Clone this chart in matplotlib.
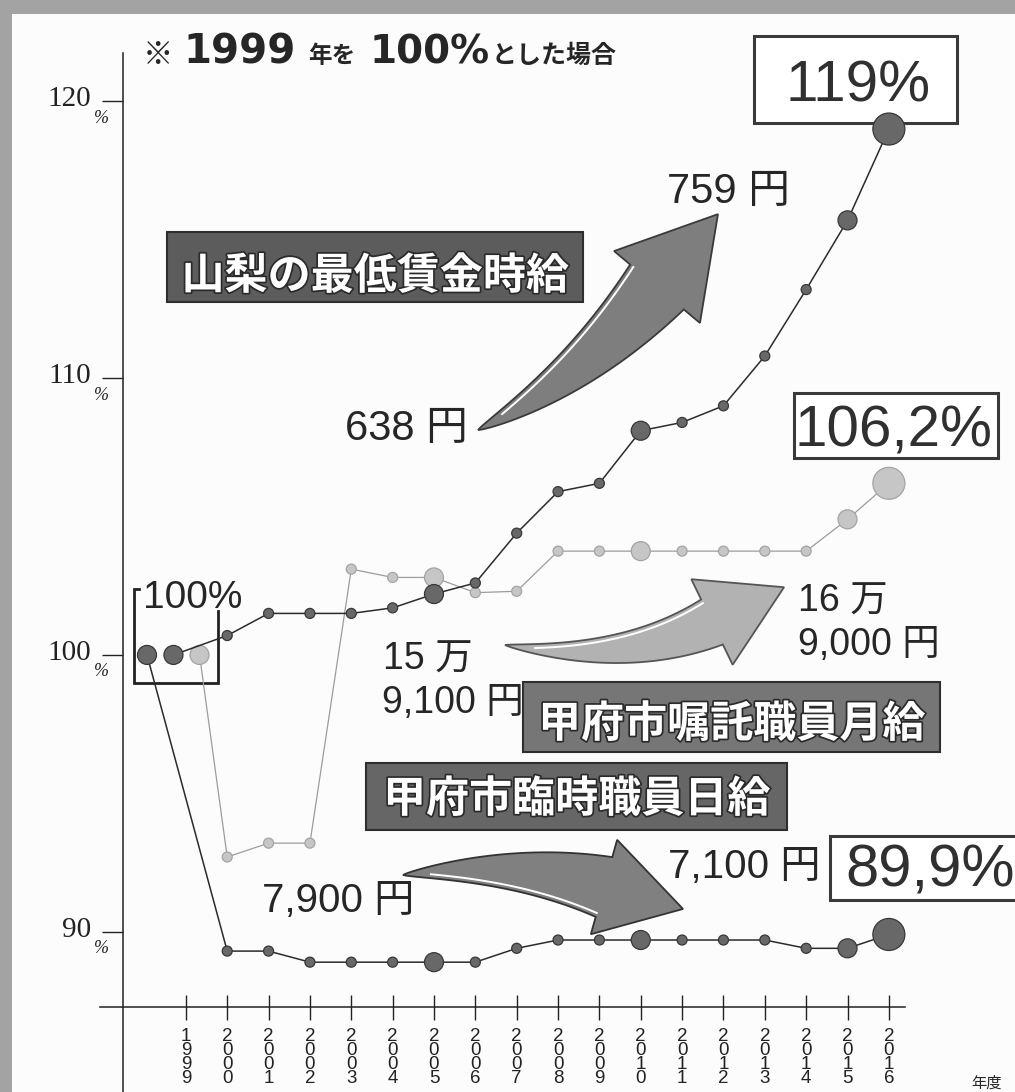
import numpy as np
import matplotlib
matplotlib.use("Agg")
import matplotlib.pyplot as plt
import matplotlib.patheffects as pe
from matplotlib.patches import Rectangle, Polygon
from matplotlib.lines import Line2D
from matplotlib.transforms import Affine2D

plt.rcParams['font.family'] = ['Liberation Sans', 'Noto Sans CJK JP', 'DejaVu Sans']

W, H = 1015, 1092

# index, 1999 = 100%
years = list(range(1999, 2017))
min_wage = [100.0, 100.7, 101.5, 101.5, 101.5, 101.7, 102.2, 102.6, 104.4, 105.9,
            106.2, 108.1, 108.4, 109.0, 110.8, 113.2, 115.7, 119.0]
commission_monthly = [100.0, 92.7, 93.2, 93.2, 103.1, 102.8, 102.8, 102.25, 102.3, 103.75,
                      103.75, 103.75, 103.75, 103.75, 103.75, 103.75, 104.9, 106.2]
temp_daily = [100.0, 89.3, 89.3, 88.9, 88.9, 88.9, 88.9, 88.9, 89.4, 89.7,
              89.7, 89.7, 89.7, 89.7, 89.7, 89.4, 89.4, 89.9]
y_ticks = [90, 100, 110, 120]

# the three 1999 dots are spread sideways so they don't sit on top of each other
shift_1999 = {'temp': -0.94, 'min': -0.30, 'commission': 0.33}
# dot diameters in pixels, bigger for a few highlighted years
dot_px = [19, 10, 10, 10, 10, 10, 19, 10, 10, 10, 10, 19, 10, 10, 10, 10, 19, 32]

XLIM = (1997.48, 2019.05)
YLIM = (87.28, 123.12)

fig = plt.figure(figsize=(W / 100, H / 100), dpi=100, facecolor='#a3a3a3')
# pixel coordinates, origin top-left
PX = Affine2D().scale(1 / W, -1 / H).translate(0, 1) + fig.transFigure

fig.add_artist(Rectangle((12, 14), W, H, transform=PX, facecolor='#fcfcfc',
                         edgecolor='none', zorder=-10))

ax = fig.add_axes([123 / W, 1 - 1007 / H, (W - 123) / W, (1007 - 15) / H])
ax.set_zorder(3)
ax.set_xlim(*XLIM)
ax.set_ylim(*YLIM)
ax.patch.set_alpha(0)
for s in ax.spines.values():
    s.set_visible(False)

# axis lines run past the plotting area
ax.plot([XLIM[0], XLIM[0]], [84.0, 121.75], color='#222', lw=1.1, clip_on=False)
ax.plot([1996.92, 2016.39], [YLIM[0], YLIM[0]], color='#222', lw=1.1, clip_on=False)

ax.set_xticks(years)
ax.set_xticklabels(['\n'.join(str(y)) for y in years], fontsize=13.5,
                   family=['Liberation Sans Narrow', 'Liberation Sans'],
                   linespacing=0.78, color='#222')
ax.tick_params(axis='x', direction='inout', length=18, width=1.0, pad=6, color='#222')
ax.set_yticks(y_ticks)
ax.tick_params(axis='y', direction='out', length=15, width=1.0, labelleft=False, color='#222')
for v in y_ticks:
    ax.annotate(str(v), xy=(XLIM[0], v), xytext=(-32, 2), textcoords='offset pixels',
                ha='right', va='center', family='Liberation Serif', fontsize=21, color='#222')
    ax.annotate('%', xy=(XLIM[0], v), xytext=(-22, -17), textcoords='offset pixels',
                ha='center', va='center', family='Liberation Serif', style='italic',
                fontsize=13, color='#222')


def draw_series(vals, key, line_col, lw, fc, ec, z):
    xs = [years[0] + shift_1999[key]] + years[1:]
    ax.plot(xs, vals, color=line_col, lw=lw, zorder=z, clip_on=False)
    ax.scatter(xs, vals, s=[(d * 0.72) ** 2 for d in dot_px], c=fc, edgecolors=ec,
               linewidths=0.9, zorder=z + 1, clip_on=False)


draw_series(commission_monthly, 'commission', '#9c9c9c', 0.9, '#c6c6c6', '#a4a4a4', 2)
draw_series(temp_daily, 'temp', '#2b2b2b', 1.1, '#686868', '#383838', 4)
draw_series(min_wage, 'min', '#2b2b2b', 1.1, '#686868', '#383838', 6)


def ptext(x, y, s, **kw):
    kw.setdefault('color', '#262626')
    kw.setdefault('ha', 'left')
    kw.setdefault('va', 'baseline')
    return fig.text(x, y, s, transform=PX, **kw)


# note at the top
ptext(143, 63, '※', family='Noto Sans CJK JP', fontsize=22)
ptext(183, 63, '1999', family='DejaVu Sans', weight='bold', fontsize=29)
ptext(308, 63, '年を', family='Noto Sans CJK JP', weight='bold', fontsize=17)
ptext(370, 63, '100%', family='DejaVu Sans', weight='bold', fontsize=28)
ptext(492, 63, 'とした場合', family='Noto Sans CJK JP', weight='bold', fontsize=18)


def boxed(txt, cx, base, box, size):
    x0, y0, x1, y1 = box
    fig.add_artist(Rectangle((x0, y0), x1 - x0, y1 - y0, transform=PX, facecolor='white',
                             edgecolor='#3a3a3a', lw=2.2, zorder=1))
    ptext(cx, base, txt, ha='center', fontsize=size, color='#303030', zorder=2)


boxed('119%', 858, 102, (754, 36, 957, 123), 42)
boxed('106,2%', 894, 446, (794, 393, 998, 458), 42)
boxed('89,9%', 930, 887, (830, 836, 1030, 900), 43)


def tag(txt, box, base, fc):
    x0, y0, x1, y1 = box
    fig.add_artist(Rectangle((x0, y0), x1 - x0, y1 - y0, transform=PX, facecolor=fc,
                             edgecolor='#2e2e2e', lw=1.5, zorder=1))
    ptext((x0 + x1) / 2, base, txt, ha='center', family='Noto Sans CJK JP', weight='bold',
          fontsize=31, color='white', zorder=2,
          path_effects=[pe.withStroke(linewidth=2.5, foreground='#2a2a2a')])


tag('山梨の最低賃金時給', (167, 232, 583, 302), 289, '#5c5c5c')
tag('甲府市嘱託職員月給', (523, 682, 940, 752), 737, '#767676')
tag('甲府市臨時職員日給', (366, 763, 787, 830), 812, '#666666')


def horn_arrow(p0, p1, p2, base_w, head_w, head_len, fc, ec, shine):
    p0, p1, p2 = (np.asarray(p, float) for p in (p0, p1, p2))
    t = np.linspace(0, 1, 80)[:, None]
    c = (1 - t) ** 2 * p0 + 2 * (1 - t) * t * p1 + t ** 2 * p2
    d = 2 * (1 - t) * (p1 - p0) + 2 * t * (p2 - p1)
    d = d / np.linalg.norm(d, axis=1, keepdims=True)
    n = np.column_stack([-d[:, 1], d[:, 0]])
    w = base_w * t ** 0.8
    left = c + n * w / 2
    right = c - n * w / 2
    tip = p2 + d[-1] * head_len
    wing_l = p2 + n[-1] * head_w / 2
    wing_r = p2 - n[-1] * head_w / 2
    pts = np.vstack([left, wing_l, tip, wing_r, right[::-1]])
    fig.add_artist(Polygon(pts, closed=True, transform=PX, facecolor=fc, edgecolor=ec,
                           lw=1.3, joinstyle='miter', zorder=1))
    hl = c + shine * n * np.clip(w / 2 - 4, 0, None)
    fig.add_artist(Line2D(hl[10:, 0], hl[10:, 1], transform=PX, color='white', lw=1.4,
                          zorder=1.5))


horn_arrow((478, 430), (580, 379), (657, 287), 70, 112, 95, '#7e7e7e', '#3a3a3a', -1)
horn_arrow((505, 645), (625, 664), (712, 622), 50, 95, 80, '#b2b2b2', '#555555', -1)
horn_arrow((403, 875), (514, 862), (604, 887), 62, 98, 82, '#808080', '#333333', 1)

# value labels
ptext(667, 203, '759 円', fontsize=30)
ptext(345, 440, '638 円', fontsize=30)
ptext(383, 670, '15 万', fontsize=27)
ptext(382, 713, '9,100 円', fontsize=27)
ptext(798, 612, '16 万', fontsize=27)
ptext(798, 655, '9,000 円', fontsize=27)
ptext(262, 912, '7,900 円', fontsize=29)
ptext(668, 878, '7,100 円', fontsize=29)
ptext(143, 608, '100%', fontsize=28)
ptext(987, 1088, '年度', ha='center', family='Noto Sans CJK JP', fontsize=11)

# bracket round the 1999 starting points
fig.add_artist(Line2D([139, 134, 134, 218, 218], [589, 589, 683, 683, 611],
                      transform=PX, color='#222', lw=2.0, solid_joinstyle='miter'))

fig.savefig('out.png', dpi=100, facecolor=fig.get_facecolor())
